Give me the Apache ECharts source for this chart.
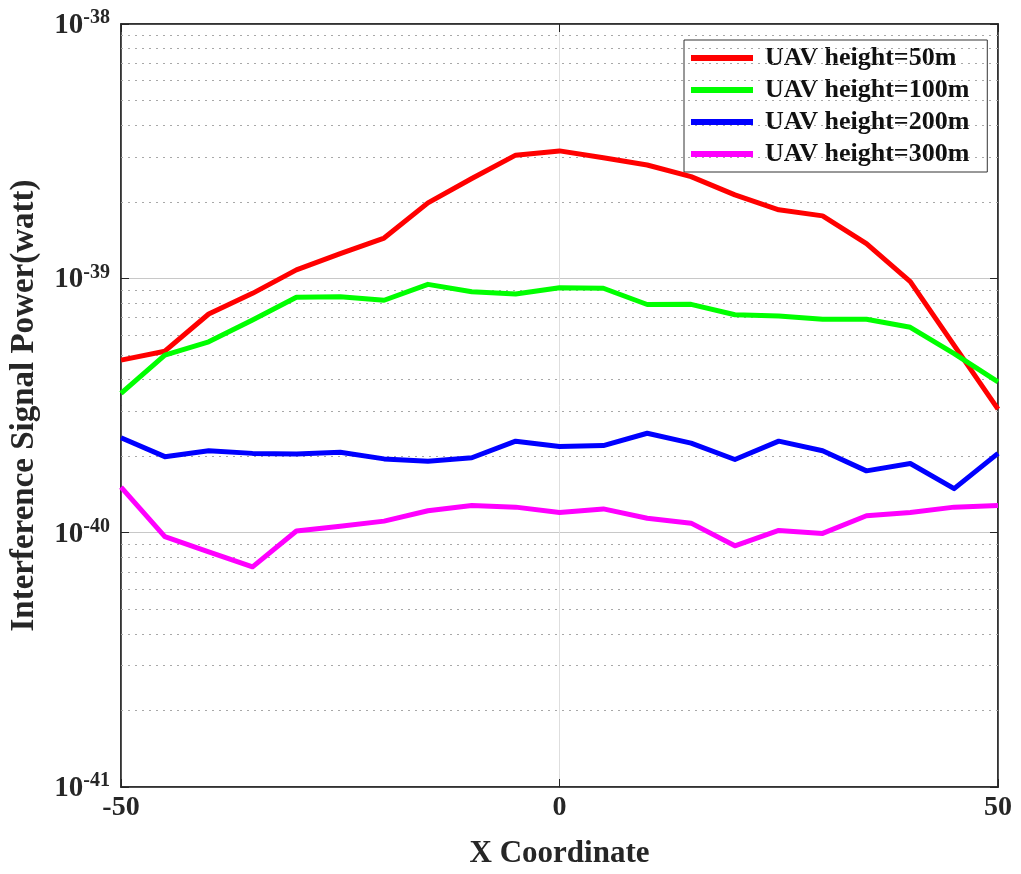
<!DOCTYPE html>
<html>
<head>
<meta charset="utf-8">
<script src="https://cdn.jsdelivr.net/npm/echarts@6/dist/echarts.min.js"></script>
<style>
html,body{margin:0;padding:0;background:#fff;}
#chart{width:1021px;height:874px;}
</style>
</head>
<body>
<div id="chart"></div>
<script>
// ---- data (watts) ----
var xCoords = [-50,-45,-40,-35,-30,-25,-20,-15,-10,-5,0,5,10,15,20,25,30,35,40,45,50];
var seriesNames = ['UAV height=50m', 'UAV height=100m', 'UAV height=200m', 'UAV height=300m'];
var h50  = [4.77e-40,5.17e-40,7.24e-40,8.73e-40,1.08e-39,1.25e-39,1.44e-39,1.98e-39,2.47e-39,3.05e-39,3.17e-39,2.98e-39,2.79e-39,2.51e-39,2.13e-39,1.86e-39,1.76e-39,1.37e-39,9.7e-40,5.45e-40,3.06e-40];
var h100 = [3.53e-40,4.99e-40,5.63e-40,6.86e-40,8.42e-40,8.47e-40,8.2e-40,9.47e-40,8.86e-40,8.68e-40,9.19e-40,9.14e-40,7.89e-40,7.9e-40,7.19e-40,7.11e-40,6.9e-40,6.9e-40,6.42e-40,5.06e-40,3.92e-40];
var h200 = [2.36e-40,1.99e-40,2.10e-40,2.05e-40,2.04e-40,2.07e-40,1.95e-40,1.91e-40,1.97e-40,2.29e-40,2.18e-40,2.20e-40,2.46e-40,2.25e-40,1.94e-40,2.29e-40,2.10e-40,1.75e-40,1.87e-40,1.49e-40,2.05e-40];
var h300 = [1.51e-40,9.64e-41,8.41e-41,7.34e-41,1.015e-40,1.06e-40,1.11e-40,1.22e-40,1.28e-40,1.26e-40,1.20e-40,1.24e-40,1.14e-40,1.09e-40,8.88e-41,1.02e-40,9.93e-41,1.165e-40,1.20e-40,1.26e-40,1.28e-40];
var xTicks = [-50, 0, 50];
var yMinExp = -41, yMaxExp = -38;
var decades = [-41, -40, -39];
var minorMultipliers = [2,3,4,5,6,7,8,9];

// ---- build ----
// ECharts rounds tiny numbers to 20 decimals, so values are expressed in units of 1e-41 W
var UNIT_EXP = -41;
var UNIT = Math.pow(10, UNIT_EXP);
function toUnit(v){ return v / UNIT; }
var colors = ['#ff0000', '#00ff00', '#0000ff', '#ff00ff'];
var allValues = [h50, h100, h200, h300];
function pairs(vals){ return xCoords.map(function(x,i){ return [x, toUnit(vals[i])]; }); }
var minorLines = [];
decades.forEach(function(d){
  minorMultipliers.forEach(function(m){ minorLines.push({yAxis: m * Math.pow(10, d - UNIT_EXP)}); });
});
var yMin = Math.pow(10, yMinExp - UNIT_EXP), yMax = Math.pow(10, yMaxExp - UNIT_EXP);

var FONT = '"Liberation Serif", "Times New Roman", serif';
var axisColor = '#262626';

var series = allValues.map(function(v, i){
  return {
    name: seriesNames[i], type: 'line', data: pairs(v),
    showSymbol: false, symbol: 'none', z: 5,
    lineStyle: {color: colors[i], width: 5, join: 'round'},
    itemStyle: {color: colors[i]},
    animation: false
  };
});
series.push({
  name: 'minorGrid', type: 'line', data: [], z: 1, silent: true, animation: false,
  markLine: {
    silent: true, symbol: ['none','none'], animation: false,
    label: {show: false},
    lineStyle: {color: '#a8a8a8', type: [2, 5], width: 1},
    data: minorLines
  }
});

var chart = echarts.init(document.getElementById('chart'), null, {renderer: 'canvas'});
chart.setOption({
  backgroundColor: '#ffffff',
  animation: false,
  grid: {left: 121, right: 23, top: 24, bottom: 87, show: true, borderColor: axisColor, borderWidth: 1.5, backgroundColor: 'transparent'},
  legend: {
    data: seriesNames,
    orient: 'vertical',
    left: 684, top: 40,
    icon: 'rect', itemWidth: 62, itemHeight: 6, itemGap: 6,
    backgroundColor: '#ffffff',
    borderColor: '#333333', borderWidth: 1,
    padding: [5, 18, 5, 7],
    textStyle: {fontFamily: FONT, fontWeight: 'bold', fontSize: 26, color: '#111', lineHeight: 26, padding: [0,0,0,7]}
  },
  xAxis: [{
    type: 'value', min: -50, max: 50, interval: 50,
    name: 'X Coordinate', nameLocation: 'middle', nameGap: 51,
    nameTextStyle: {fontFamily: FONT, fontWeight: 'bold', fontSize: 31, color: '#262626'},
    axisLine: {show: true, onZero: false, lineStyle: {color: axisColor, width: 1.5}},
    axisTick: {show: true, inside: true, length: 8, lineStyle: {color: axisColor}},
    axisLabel: {fontFamily: FONT, fontWeight: 'bold', fontSize: 28, color: '#262626', margin: 7},
    splitLine: {show: true, lineStyle: {color: '#dedede', width: 1}}
  }, {
    type: 'value', position: 'top', min: -50, max: 50, interval: 50,
    axisLine: {show: true, onZero: false, lineStyle: {color: axisColor, width: 1.5}},
    axisTick: {show: true, inside: true, length: 8, lineStyle: {color: axisColor}},
    axisLabel: {show: false}, splitLine: {show: false}
  }],
  yAxis: [{
    type: 'log', logBase: 10, min: yMin, max: yMax, splitNumber: 3,
    name: 'Interference Signal Power(watt)', nameLocation: 'middle', nameGap: 80,
    nameTextStyle: {fontFamily: FONT, fontWeight: 'bold', fontSize: 33, color: '#262626'},
    axisLine: {show: true, onZero: false, lineStyle: {color: axisColor, width: 1.5}},
    axisTick: {show: true, inside: true, length: 8, lineStyle: {color: axisColor}},
    axisLabel: {
      margin: 11,
      formatter: function(v){ return '{b|10}{s|' + (Math.round(Math.log10(v)) + UNIT_EXP) + '}'; },
      rich: {
        b: {fontFamily: FONT, fontWeight: 'bold', fontSize: 29, color: '#262626', verticalAlign: 'bottom', lineHeight: 32},
        s: {fontFamily: FONT, fontWeight: 'bold', fontSize: 20, color: '#262626', verticalAlign: 'top', lineHeight: 32}
      }
    },
    splitLine: {show: true, lineStyle: {color: '#c8c8c8', width: 1}}
  }, {
    type: 'log', logBase: 10, min: yMin, max: yMax, splitNumber: 3, position: 'right',
    axisLine: {show: true, onZero: false, lineStyle: {color: axisColor, width: 1.5}},
    axisTick: {show: true, inside: true, length: 8, lineStyle: {color: axisColor}},
    axisLabel: {show: false}, splitLine: {show: false}
  }],
  series: series
});
</script>
</body>
</html>
